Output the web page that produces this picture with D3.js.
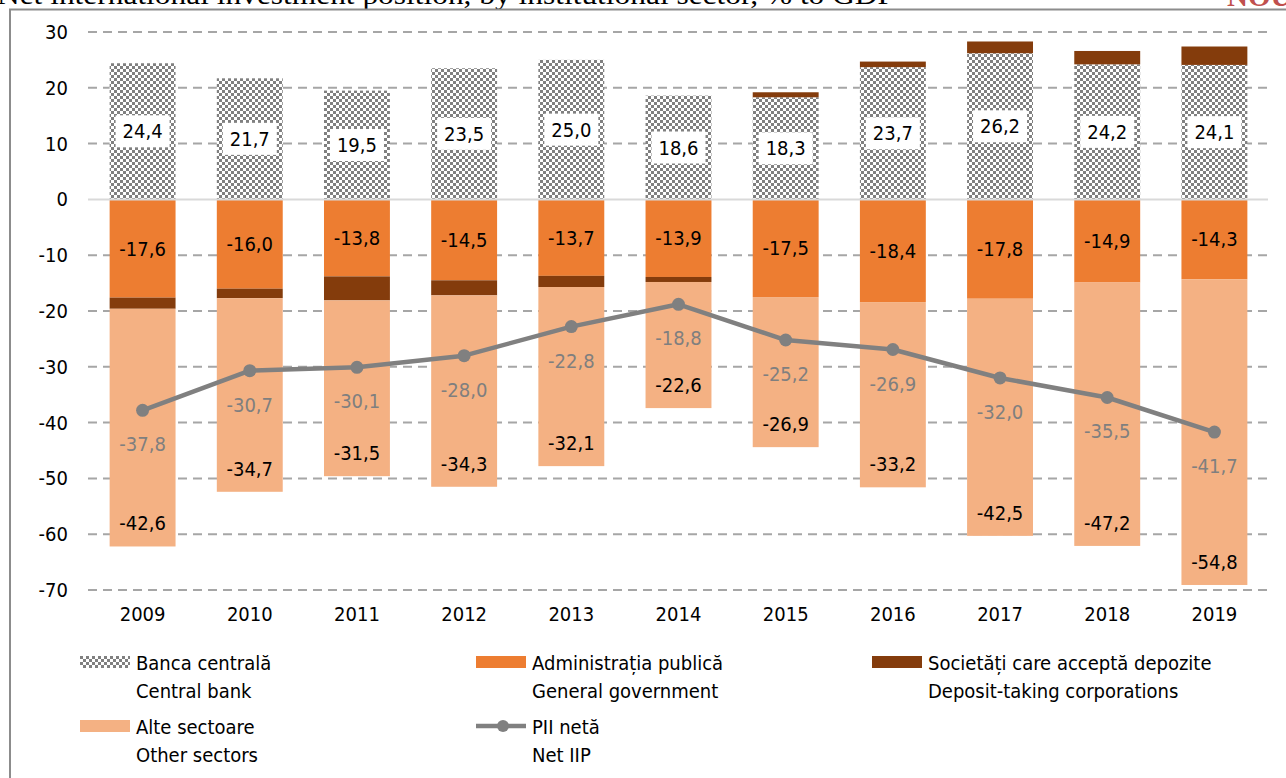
<!DOCTYPE html>
<html>
<head>
<meta charset="utf-8">
<script src="https://cdn.jsdelivr.net/npm/d3@7"></script>
<style>
  body { margin: 0; background: #fff; }
  svg text { font-family: 'Liberation Sans Narrow', 'DejaVu Sans Condensed', 'Roboto', sans-serif; }
</style>
</head>
<body>
<script>
// Chart size and margins
const width = 1286;
const height = 778;
const plot = {left: 89, right: 1268, top: 32, bottom: 590};

// Data
const years = ['2009','2010','2011','2012','2013','2014','2015','2016','2017','2018','2019'];
const centralBank = [24.4, 21.7, 19.5, 23.5, 25.0, 18.6, 18.3, 23.7, 26.2, 24.2, 24.1];
const generalGov = [-17.6, -16.0, -13.8, -14.5, -13.7, -13.9, -17.5, -18.4, -17.8, -14.9, -14.3];
const depositTaking = [-2.0, -1.7, -4.3, -2.7, -2.0, -0.9, 0.9, 1.0, 2.1, 2.4, 3.3];
const otherSectors = [-42.6, -34.7, -31.5, -34.3, -32.1, -22.6, -26.9, -33.2, -42.5, -47.2, -54.8];
const netIIP = [-37.8, -30.7, -30.1, -28.0, -22.8, -18.8, -25.2, -26.9, -32.0, -35.5, -41.7];
const yTicks = [30, 20, 10, 0, -10, -20, -30, -40, -50, -60, -70];

const keys = ['cb', 'gg', 'dep', 'os'];
const colors = {cb: 'url(#checker)', gg: '#ED7D31', dep: '#843C0C', os: '#F4B183'};
const lineColor = '#808080';

// table for the stack layout
const rows = years.map((y, i) => ({
  year: y, cb: centralBank[i], gg: generalGov[i], dep: depositTaking[i], os: otherSectors[i], net: netIIP[i]
}));

// one decimal, comma separator, plain hyphen for minus
const fmt = v => v.toFixed(1).replace('.', ',');

const svg = d3.select('body').append('svg')
  .attr('width', width)
  .attr('height', height);

// checker pattern for the central bank
const defs = svg.append('defs');
const pat = defs.append('pattern')
  .attr('id', 'checker')
  .attr('patternUnits', 'userSpaceOnUse')
  .attr('width', 6).attr('height', 6);
pat.append('rect').attr('width', 6).attr('height', 6).attr('fill', '#ffffff');
pat.append('rect').attr('width', 3).attr('height', 3).attr('fill', '#808080');
pat.append('rect').attr('x', 3).attr('y', 3).attr('width', 3).attr('height', 3).attr('fill', '#808080');

// title (cut at the top, as in the source page) and frame
svg.append('text')
  .attr('x', -3).attr('y', 4)
  .attr('font-size', 27)
  .attr('textLength', 898)
  .attr('lengthAdjust', 'spacingAndGlyphs')
  .style('font-family', "'Liberation Serif', 'DejaVu Serif', serif")
  .attr('fill', '#000')
  .text('Net international investment position, by institutional sector, % to GDP');

svg.append('text')
  .attr('x', 1227).attr('y', 6)
  .attr('font-size', 29)
  .attr('font-weight', 'bold')
  .style('font-family', "'Liberation Serif', 'DejaVu Serif', serif")
  .attr('fill', '#C0504D')
  .text('NOU');

svg.append('path')
  .attr('d', 'M10,' + height + 'V9.5H' + width)
  .attr('fill', 'none')
  .attr('stroke', '#8c8c8c')
  .attr('stroke-width', 2);

// Scales
const x = d3.scaleBand()
  .domain(years)
  .range([plot.left, plot.right])
  .paddingInner(0.385)
  .paddingOuter(0.1925);

const y = d3.scaleLinear()
  .domain([-70, 30])
  .range([plot.bottom, plot.top]);

// gridlines
svg.append('g')
  .selectAll('line')
  .data(yTicks.filter(d => d !== 0))
  .join('line')
  .attr('x1', plot.left - 1).attr('x2', plot.right)
  .attr('y1', d => y(d)).attr('y2', d => y(d))
  .attr('stroke', '#a6a6a6')
  .attr('stroke-width', 2)
  .attr('stroke-dasharray', '9,6');

// y axis labels
const yAxis = d3.axisLeft(y).tickValues(yTicks).tickSize(0).tickPadding(0).tickFormat(d => String(d));
svg.append('g')
  .attr('transform', 'translate(68,0)')
  .call(yAxis)
  .call(g => g.select('.domain').remove())
  .selectAll('text')
  .attr('font-size', 20)
  .attr('fill', '#000');

// x axis labels
const xAxis = d3.axisBottom(x).tickSize(0).tickPadding(0);
svg.append('g')
  .attr('transform', 'translate(0,' + (plot.bottom + 17) + ')')
  .call(xAxis)
  .call(g => g.select('.domain').remove())
  .selectAll('text')
  .attr('font-size', 20)
  .attr('fill', '#000');

// stacked bars
const series = d3.stack().keys(keys).offset(d3.stackOffsetDiverging)(rows);

svg.append('g')
  .selectAll('g')
  .data(series)
  .join('g')
  .attr('fill', d => colors[d.key])
  .selectAll('rect')
  .data(d => d)
  .join('rect')
  .attr('x', d => x(d.data.year))
  .attr('width', x.bandwidth())
  .attr('y', d => y(Math.max(d[0], d[1])))
  .attr('height', d => Math.abs(y(d[0]) - y(d[1])));

// zero line
svg.append('line')
  .attr('x1', plot.left - 1).attr('x2', plot.right)
  .attr('y1', y(0)).attr('y2', y(0))
  .attr('stroke', '#d9d9d9')
  .attr('stroke-width', 2);

const labels = svg.append('g')
  .attr('font-size', 20)
  .attr('text-anchor', 'middle')
  .attr('dominant-baseline', 'central');

// central bank labels in white boxes
const cbSeries = series.find(s => s.key === 'cb');
const cbLab = labels.selectAll('g.cb')
  .data(cbSeries)
  .join('g')
  .attr('class', 'cb')
  .attr('transform', d => 'translate(' + (x(d.data.year) + x.bandwidth() / 2) + ',' + y((d[0] + d[1]) / 2) + ')');
cbLab.append('rect')
  .attr('x', -27).attr('y', -16).attr('width', 54).attr('height', 32)
  .attr('fill', '#fff');
cbLab.append('text')
  .attr('fill', '#000')
  .text(d => fmt(d.data.cb));

// general government labels
const ggSeries = series.find(s => s.key === 'gg');
labels.selectAll('text.gg')
  .data(ggSeries)
  .join('text')
  .attr('class', 'gg')
  .attr('x', d => x(d.data.year) + x.bandwidth() / 2)
  .attr('y', d => y((d[0] + d[1]) / 2))
  .attr('fill', '#000')
  .text(d => fmt(d.data.gg));

// other sectors labels near the bottom end
const osSeries = series.find(s => s.key === 'os');
labels.selectAll('text.os')
  .data(osSeries)
  .join('text')
  .attr('class', 'os')
  .attr('x', d => x(d.data.year) + x.bandwidth() / 2)
  .attr('y', d => y(Math.min(d[0], d[1])) - 23)
  .attr('fill', '#000')
  .text(d => fmt(d.data.os));

// net IIP line
const line = d3.line()
  .x(d => x(d.year) + x.bandwidth() / 2)
  .y(d => y(d.net));

svg.append('path')
  .attr('d', line(rows))
  .attr('fill', 'none')
  .attr('stroke', lineColor)
  .attr('stroke-width', 4.5)
  .attr('stroke-linejoin', 'round');

svg.append('g')
  .selectAll('circle')
  .data(rows)
  .join('circle')
  .attr('cx', d => x(d.year) + x.bandwidth() / 2)
  .attr('cy', d => y(d.net))
  .attr('r', 6.5)
  .attr('fill', lineColor);

labels.selectAll('text.net')
  .data(rows)
  .join('text')
  .attr('class', 'net')
  .attr('x', d => x(d.year) + x.bandwidth() / 2)
  .attr('y', d => y(d.net) + 34)
  .attr('fill', '#7f7f7f')
  .text(d => fmt(d.net));

// Legend
const legendItems = [
  {ro: 'Banca centrală', en: 'Central bank', key: 'cb', lx: 80, ly: 656},
  {ro: 'Administrația publică', en: 'General government', key: 'gg', lx: 476, ly: 656},
  {ro: 'Societăți care acceptă depozite', en: 'Deposit-taking corporations', key: 'dep', lx: 872, ly: 656},
  {ro: 'Alte sectoare', en: 'Other sectors', key: 'os', lx: 80, ly: 720},
  {ro: 'PII netă', en: 'Net IIP', key: 'net', lx: 476, ly: 720}
];

const leg = svg.append('g')
  .selectAll('g')
  .data(legendItems)
  .join('g')
  .attr('transform', d => 'translate(' + d.lx + ',' + d.ly + ')');

leg.filter(d => d.key !== 'net')
  .append('rect')
  .attr('width', 50).attr('height', 12)
  .attr('fill', d => colors[d.key]);

const netLeg = leg.filter(d => d.key === 'net');
netLeg.append('line')
  .attr('x1', 0).attr('x2', 50).attr('y1', 6).attr('y2', 6)
  .attr('stroke', lineColor).attr('stroke-width', 4.5);
netLeg.append('circle')
  .attr('cx', 27).attr('cy', 6).attr('r', 6)
  .attr('fill', lineColor);

leg.append('text')
  .attr('x', 56).attr('y', 14)
  .attr('font-size', 20)
  .attr('fill', '#000')
  .text(d => d.ro);
leg.append('text')
  .attr('x', 56).attr('y', 42)
  .attr('font-size', 20)
  .attr('fill', '#000')
  .text(d => d.en);
</script>
</body>
</html>
